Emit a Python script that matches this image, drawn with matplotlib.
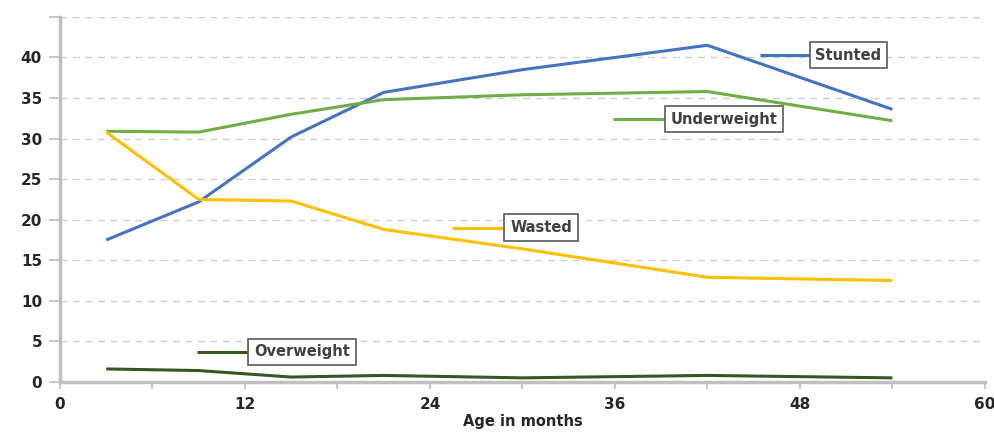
import matplotlib
matplotlib.use("Agg")
import matplotlib.pyplot as plt

# Age-group midpoints (months) and prevalence (%) per indicator
ages = [3, 9, 15, 21, 30, 42, 54]
stunted = [17.5, 22.2, 30.2, 35.7, 38.5, 41.5, 33.6]
underweight = [30.9, 30.8, 33.0, 34.8, 35.4, 35.8, 32.2]
wasted = [30.8, 22.5, 22.3, 18.8, 16.4, 12.9, 12.5]
overweight = [1.6, 1.4, 0.6, 0.8, 0.5, 0.8, 0.5]

series_names = ["Stunted", "Underweight", "Wasted", "Overweight"]
series_values = [stunted, underweight, wasted, overweight]
colors = ["#4472C4", "#70AD47", "#FFC000", "#375623"]

x_ticks_major = [0, 12, 24, 36, 48, 60]
y_tick_labels = [0, 5, 10, 15, 20, 25, 30, 35, 40]

# Callout label positions in data coordinates: (line start x, box left x, y)
callouts = [(45.4, 49.0, 40.3), (35.9, 39.6, 32.4), (25.4, 29.2, 19.0), (8.9, 12.6, 3.7)]

plt.rcParams["font.family"] = ["DejaVu Sans"]

fig = plt.figure(figsize=(9.95, 4.34), dpi=100)
ax = fig.add_axes([0.0603, 0.12, 0.9296, 0.841])

for vals, c in zip(series_values, colors):
    ax.plot(ages, vals, color=c, lw=2.2, solid_capstyle="butt", zorder=3)

ax.set_xlim(0, 60)
ax.set_ylim(0, 45)
ax.set_xticks(list(range(0, 61, 6)))
ax.set_xticklabels([str(t) if t in x_ticks_major else "" for t in range(0, 61, 6)])
ax.set_yticks(list(range(0, 46, 5)))
ax.set_yticklabels([str(t) if t in y_tick_labels else "" for t in range(0, 46, 5)])

ax.grid(axis="y", color="#d0d0d0", linestyle=(0, (5, 4)), lw=1.0, zorder=0)
for s in ["top", "right"]:
    ax.spines[s].set_visible(False)
for s in ["left", "bottom"]:
    ax.spines[s].set_color("#bfbfbf")
    ax.spines[s].set_linewidth(2.5)
ax.tick_params(axis="both", colors="#bfbfbf", length=5, width=1.2)
ax.tick_params(axis="y", length=8)
for lbl in ax.get_xticklabels() + ax.get_yticklabels():
    lbl.set_color("#262626")
    lbl.set_fontsize(11)
    lbl.set_fontweight("bold")
ax.tick_params(axis="x", pad=6)
ax.tick_params(axis="y", pad=5)

ax.set_xlabel("Age in months", fontsize=10.5, fontweight="bold", color="#262626", labelpad=1)

for name, c, (x0, xb, y) in zip(series_names, colors, callouts):
    ax.plot([x0, xb], [y, y], color=c, lw=2.2, zorder=4, solid_capstyle="butt")
    ax.text(xb, y, name, fontsize=10.5, fontweight="bold", color="#404040",
            ha="left", va="center", zorder=5,
            bbox=dict(boxstyle="square,pad=0.4", fc="white", ec="#595959", lw=1.2))

fig.savefig("out.png", dpi=100, facecolor="white")
